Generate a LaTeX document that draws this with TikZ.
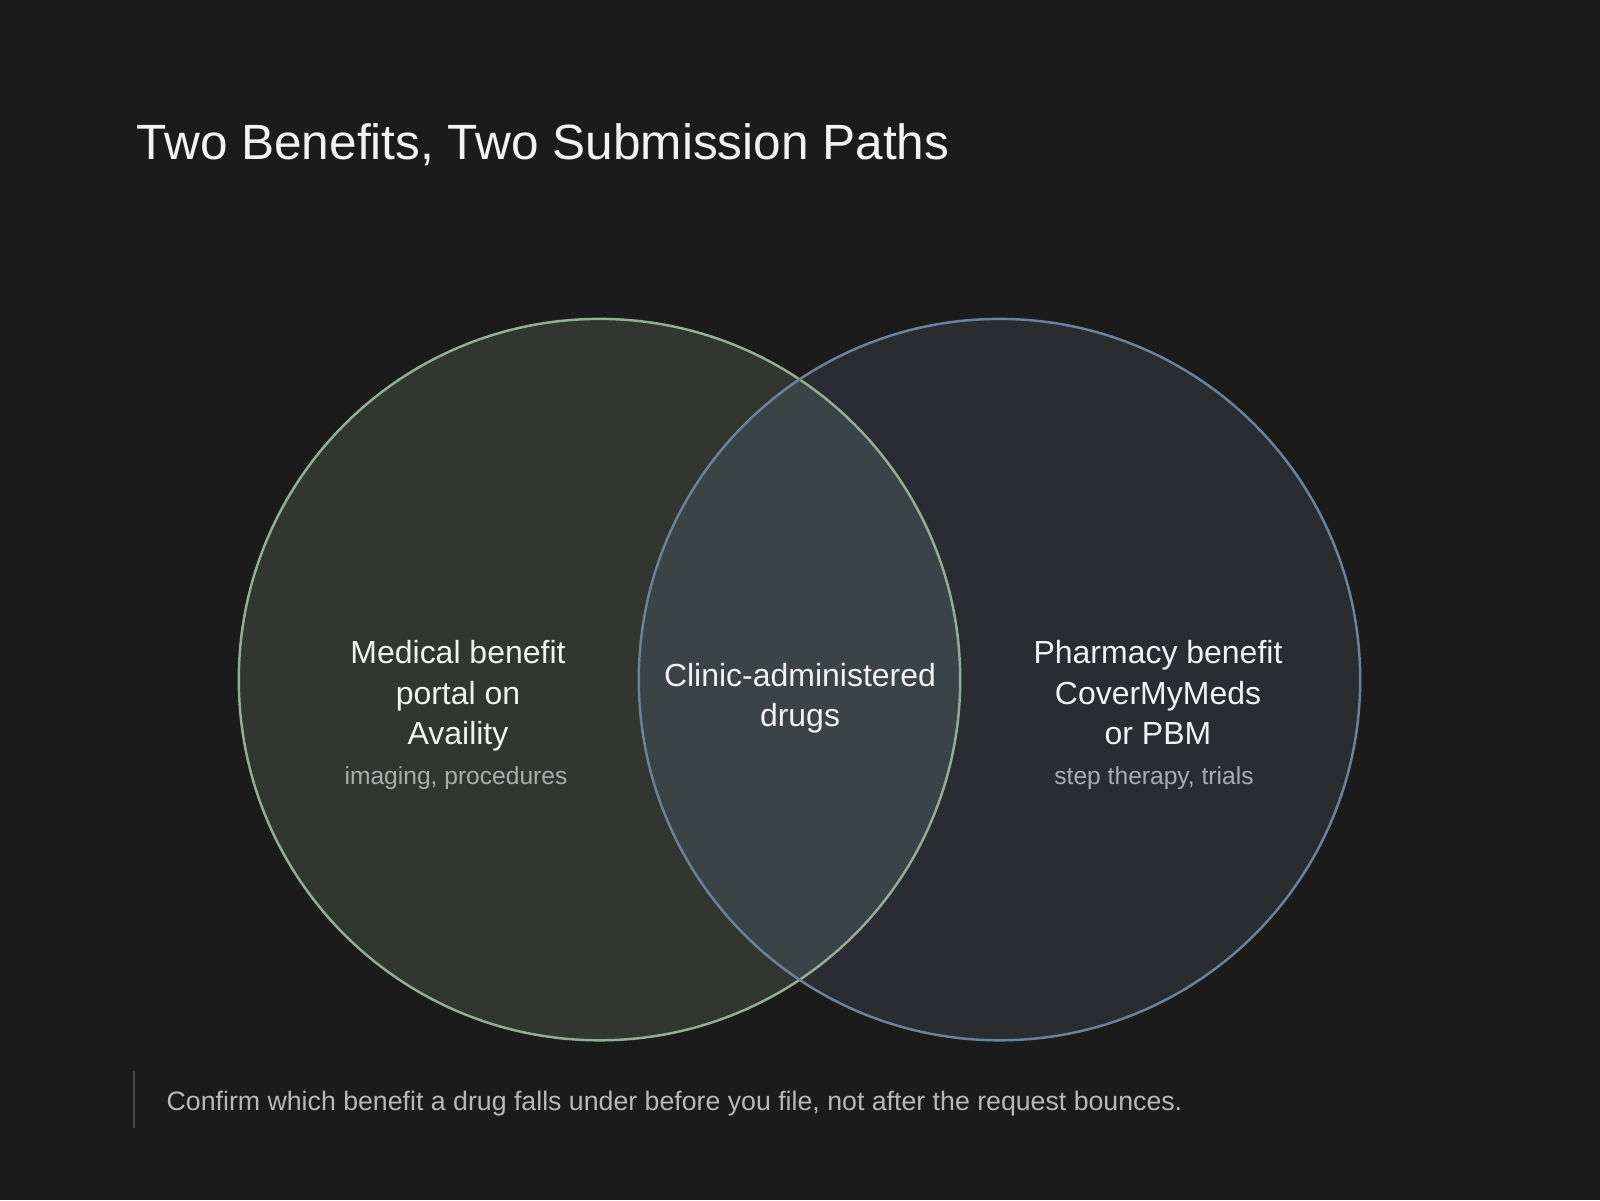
\documentclass[tikz,border=0pt]{standalone}
\usepackage{fontspec}
\setmainfont{Liberation Sans}
\definecolor{bgcol}{HTML}{1B1B1B}
\definecolor{medfill}{HTML}{313630}
\definecolor{medline}{HTML}{93AE95}
\definecolor{rxfill}{HTML}{292D32}
\definecolor{rxline}{HTML}{6B8299}
\definecolor{bothfill}{HTML}{3A4446}
\definecolor{maintext}{HTML}{F2F2F2}
\definecolor{subtext}{HTML}{A9ADB0}
\definecolor{notetext}{HTML}{B8B8B8}
\definecolor{notebar}{HTML}{4A4A4A}
\begin{document}
\begin{tikzpicture}[
    label/.style={text=maintext, inner sep=0pt, anchor=base, font=\fontsize{9.1}{11}\selectfont},
    sublabel/.style={text=subtext, inner sep=0pt, anchor=base, font=\fontsize{7.0}{8}\selectfont}]
    \fill[bgcol] (0,0) rectangle (16,12);
    \useasboundingbox (0,0) rectangle (16,12);
    % the two benefits
    \fill[medfill] (5.995,5.204) circle (3.607);
    \fill[rxfill] (9.995,5.204) circle (3.607);
    \begin{scope}
        \clip (5.995,5.204) circle (3.607);
        \fill[bothfill] (9.995,5.204) circle (3.607);
    \end{scope}
    \draw[medline, line width=0.7pt] (5.995,5.204) circle (3.607);
    \draw[rxline, line width=0.7pt] (9.995,5.204) circle (3.607);
    % title
    \node[text=maintext, inner sep=0pt, anchor=base west, font=\fontsize{14.1}{17}\selectfont] (title) at (1.36,10.40) {Two Benefits, Two Submission Paths};
    % left
    \node[label] (med1) at (4.58,5.37) {Medical benefit};
    \node[label] (med2) at (4.58,4.96) {portal on};
    \node[label] (med3) at (4.58,4.56) {Availity};
    \node[sublabel] (medsub) at (4.56,4.16) {imaging, procedures};
    % middle
    \node[label] (both1) at (8.00,5.14) {Clinic-administered};
    \node[label] (both2) at (8.00,4.74) {drugs};
    % right
    \node[label] (rx1) at (11.58,5.37) {Pharmacy benefit};
    \node[label] (rx2) at (11.58,4.96) {CoverMyMeds};
    \node[label] (rx3) at (11.58,4.56) {or PBM};
    \node[sublabel] (rxsub) at (11.54,4.16) {step therapy, trials};
    % note
    \draw[notebar, line width=0.6pt] (1.34,1.29) -- (1.34,0.72);
    \node[text=notetext, inner sep=0pt, anchor=base west, font=\fontsize{7.6}{9}\selectfont] (note) at (1.66,0.90) {Confirm which benefit a drug falls under before you file, not after the request bounces.};
\end{tikzpicture}
\end{document}
